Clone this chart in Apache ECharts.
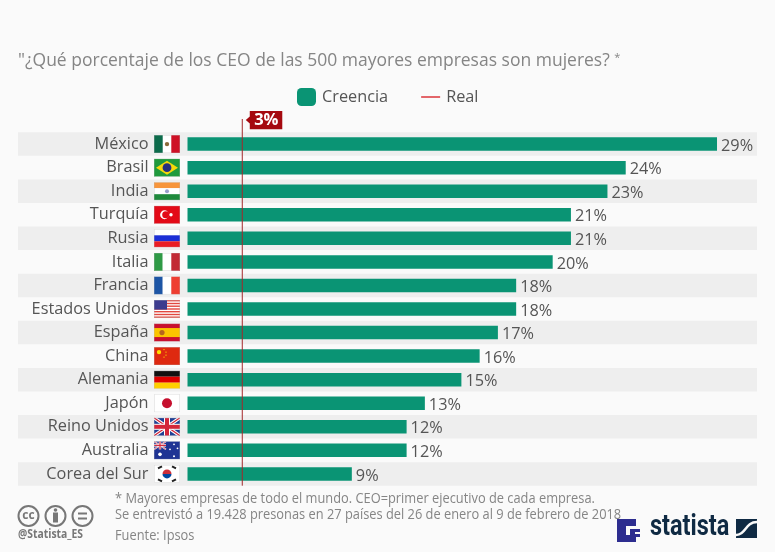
<!DOCTYPE html>
<html>
<head>
<meta charset="utf-8">
<style>html,body{margin:0;padding:0;background:#fafafa}#main{width:775px;height:552px}</style>
<script src="https://cdn.jsdelivr.net/npm/echarts@6/dist/echarts.min.js"></script>
</head>
<body>
<div id="main"></div>
<script>
var paises = ['México','Brasil','India','Turquía','Rusia','Italia','Francia','Estados Unidos','España','China','Alemania','Japón','Reino Unidos','Australia','Corea del Sur'];
var creencia = [29,24,23,21,21,20,18,18,17,16,15,13,12,12,9];
var real = [3];
var titulo = '"¿Qué porcentaje de los CEO de las 500 mayores empresas son mujeres?';
var nota1 = '* Mayores empresas de todo el mundo. CEO=primer ejecutivo de cada empresa.';
var nota2 = 'Se entrevistó a 19.428 presonas en 27 países del 26 de enero al 9 de febrero de 2018';
var fuente = 'Fuente: Ipsos';

var green = '#0a9474';
var redDark = '#a5090f';

function r(x, y, w, h, c) {
    return '<rect x="' + x + '" y="' + y + '" width="' + w + '" height="' + h + '" fill="' + c + '"/>';
}
function stars(list, c) {
    return list.map(function (s) {
        return '<circle cx="' + s[0] + '" cy="' + s[1] + '" r="' + s[2] + '" fill="' + c + '"/>';
    }).join('');
}
var usStripes = '';
[0, 2.8, 5.5, 8.3, 11, 13.8, 16.5].forEach(function (y) { usStripes += r(0, y, 26, 1.4, '#e2483f'); });

var ukFlag = r(0,0,26,18,'#1f3f94')
    + '<path d="M0 0L26 18M26 0L0 18" stroke="#fff" stroke-width="3.4"/>'
    + '<path d="M0 0L26 18M26 0L0 18" stroke="#d3263a" stroke-width="1.2"/>'
    + r(10,0,6,18,'#fff') + r(0,6,26,6,'#fff') + r(11,0,4,18,'#d3263a') + r(0,7,26,4,'#d3263a');
var auJack = '<path d="M0 0L12 8M12 0L0 8" stroke="#fff" stroke-width="1.6"/>'
    + '<path d="M0 0L12 8M12 0L0 8" stroke="#d3263a" stroke-width=".6"/>'
    + r(4.8,0,2.4,8,'#fff') + r(0,2.8,12,2.4,'#fff') + r(5.4,0,1.2,8,'#d3263a') + r(0,3.4,12,1.2,'#d3263a');

var flagArt = {
    'México': r(0,0,26,18,'#fff') + r(0,0,8.7,18,'#0c6b4b') + r(17.3,0,8.7,18,'#ce1126') + '<circle cx="13" cy="9" r="2.2" fill="#8a6a3a"/>',
    'Brasil': r(0,0,26,18,'#1f9a3d') + '<path d="M13 2L24 9L13 16L2 9Z" fill="#f5d90a"/><circle cx="13" cy="9" r="4.4" fill="#27307f"/>',
    'India': r(0,0,26,6,'#f7953b') + r(0,6,26,6,'#fff') + r(0,12,26,6,'#1f8a3c') + '<circle cx="13" cy="9" r="2" fill="#9aa0cc"/>',
    'Turquía': r(0,0,26,18,'#e30a17') + '<circle cx="10.5" cy="9" r="4.4" fill="#fff"/><circle cx="11.7" cy="9" r="3.5" fill="#e30a17"/><circle cx="17" cy="9" r="1.7" fill="#fff"/>',
    'Rusia': r(0,0,26,6,'#fff') + r(0,6,26,6,'#1c2fd6') + r(0,12,26,6,'#ea1c24'),
    'Italia': r(0,0,8.7,18,'#2f9a46') + r(8.7,0,8.6,18,'#fff') + r(17.3,0,8.7,18,'#c22a35'),
    'Francia': r(0,0,8.7,18,'#1d55a5') + r(8.7,0,8.6,18,'#fff') + r(17.3,0,8.7,18,'#ee3e32'),
    'Estados Unidos': r(0,0,26,18,'#fff') + usStripes + r(0,0,13,9.6,'#3c3b8e'),
    'España': r(0,0,26,18,'#c8102e') + r(0,4.5,26,9,'#fbc400') + '<circle cx="8" cy="9" r="2.6" fill="#b5651d"/>',
    'China': r(0,0,26,18,'#de2910') + stars([[5,5,2.2],[10,2.5,.7],[12,5,.7],[12,8,.7],[10,10,.7]], '#ffde00'),
    'Alemania': r(0,0,26,6,'#111') + r(0,6,26,6,'#dd0000') + r(0,12,26,6,'#ffce00'),
    'Japón': r(0,0,26,18,'#fff') + '<circle cx="13" cy="9" r="5" fill="#c60f2e"/>',
    'Reino Unidos': ukFlag,
    'Australia': r(0,0,26,18,'#1f3494') + auJack + stars([[6,13,1.8],[20,3,.9],[16,8,.9],[23.5,7,.9],[20,15,1]], '#fff'),
    'Corea del Sur': r(0,0,26,18,'#fff')
        + '<path d="M4 3.5L8 1.5M18 1.5L22 3.5M4 14.5L8 16.5M18 16.5L22 14.5" stroke="#222" stroke-width="2"/>'
        + '<path d="M8.5 9A4.5 4.5 0 0 1 17.5 9Z" fill="#cd2e3a"/><path d="M8.5 9A4.5 4.5 0 0 0 17.5 9Z" fill="#0047a0"/>'
};

function flagUri(name) {
    var svg = '<svg xmlns="http://www.w3.org/2000/svg" width="78" height="54" viewBox="0 0 26 18">' + flagArt[name]
        + '<rect x=".25" y=".25" width="25.5" height="17.5" fill="none" stroke="#bbb" stroke-opacity=".6" stroke-width=".5"/></svg>';
    return 'data:image/svg+xml;charset=utf-8,' + encodeURIComponent(svg);
}

var chart = echarts.init(document.getElementById('main'));

var option = {
    backgroundColor: '#fafafa',
    animation: false,
    textStyle: { fontFamily: 'Open Sans' },
    title: {
        left: 18, top: 52, padding: 0,
        text: titulo + ' {sup|*}',
        textStyle: {
            fontFamily: 'Open Sans', fontWeight: 'normal', fontSize: 17.5, color: '#858585',
            rich: { sup: { fontSize: 11, color: '#858585', verticalAlign: 'top', padding: [0, 0, 6, 0] } }
        }
    },
    legend: {
        left: 297, top: 88, padding: 0,
        itemWidth: 19, itemHeight: 18, itemGap: 33,
        textStyle: { fontSize: 16.3, color: '#555', padding: [6, 0, 0, 1] },
        data: [
            { name: 'Creencia', icon: 'roundRect', itemStyle: { color: green } },
            { name: 'Real', icon: 'path://M0 9H19V10.4H0Z', itemStyle: { color: '#d8262c' } }
        ]
    },
    grid: { left: 187.5, top: 132.3, width: 569.5, height: 353.4 },
    xAxis: { type: 'value', min: 0, max: 31.19, show: false },
    yAxis: {
        type: 'category', inverse: true, data: paises, z: 5,
        axisLine: { show: false }, axisTick: { show: false },
        axisLabel: { interval: 0, margin: 39, fontSize: 16.3, color: '#555', fontFamily: 'Open Sans', padding: [6, 0, 0, 0] }
    },
    series: [
        {
            // bandas alternas de fondo, empiezan fuera del grid
            type: 'custom', silent: true, z: 1,
            data: paises.map(function (p, i) { return [0, i]; }),
            renderItem: function (params, api) {
                if (params.dataIndex % 2) return { type: 'group', children: [] };
                var c = api.coord([0, params.dataIndex]);
                var h = api.size([0, 1])[1];
                return {
                    type: 'rect',
                    shape: { x: 18, y: c[1] - h / 2, width: 739, height: h },
                    style: { fill: '#eeeeee' }
                };
            }
        },
        {
            name: 'Creencia', type: 'bar', barWidth: 13.5, z: 2, data: creencia,
            itemStyle: { color: green },
            label: { show: true, position: 'right', distance: 4, offset: [0, 2], formatter: '{c}%', fontSize: 16.3, color: '#555', fontFamily: 'Open Sans' }
        },
        {
            // banderas entre etiqueta y barra
            type: 'custom', silent: true, z: 3,
            data: paises.map(function (p, i) { return [0, i]; }),
            renderItem: function (params, api) {
                var c = api.coord([0, params.dataIndex]);
                return {
                    type: 'image',
                    style: { image: flagUri(paises[params.dataIndex]), x: c[0] - 33.5, y: c[1] - 9, width: 26, height: 18 }
                };
            }
        },
        {
            name: 'Real', type: 'custom', silent: true, z: 4,
            data: real.map(function (v) { return [v, 0]; }),
            renderItem: function (params, api) {
                var sys = params.coordSys;
                var x = api.coord([api.value(0), 0])[0];
                var top = sys.y - 13.3;
                return {
                    type: 'group',
                    children: [
                        { type: 'line', shape: { x1: x, y1: top, x2: x, y2: sys.y + sys.height }, style: { stroke: '#a5282a', lineWidth: 1 } },
                        {
                            type: 'polygon',
                            shape: { points: [[x + 3.5, top + 1], [x + 7.5, top - 2.5], [x + 7.5, top - 8], [x + 40, top - 8], [x + 40, top + 10.3], [x + 7.5, top + 10.3], [x + 7.5, top + 4.5]] },
                            style: { fill: redDark }
                        },
                        {
                            type: 'text',
                            style: { x: x + 24, y: top + 1.5, text: api.value(0) + '%', fill: '#fff', font: 'bold 16.5px "Open Sans"', align: 'center', verticalAlign: 'middle' }
                        }
                    ]
                };
            }
        }
    ],
    graphic: [
        { type: 'text', x: 115, y: 491, scaleX: 0.885, style: { text: nota1, font: '14.5px "Open Sans"', fill: '#858585' } },
        { type: 'text', x: 115, y: 507, scaleX: 0.885, style: { text: nota2, font: '14.5px "Open Sans"', fill: '#858585' } },
        { type: 'text', x: 115, y: 528, scaleX: 0.885, style: { text: fuente, font: '14.5px "Open Sans"', fill: '#858585' } },

        // iconos cc
        { type: 'circle', shape: { cx: 28.5, cy: 516, r: 10 }, style: { fill: 'none', stroke: '#777', lineWidth: 2 } },
        { type: 'circle', shape: { cx: 55.5, cy: 516, r: 10 }, style: { fill: 'none', stroke: '#777', lineWidth: 2 } },
        { type: 'circle', shape: { cx: 82.5, cy: 516, r: 10 }, style: { fill: 'none', stroke: '#777', lineWidth: 2 } },
        { type: 'text', style: { x: 28.5, y: 516, text: 'cc', font: 'bold 12px "Open Sans"', fill: '#777', align: 'center', verticalAlign: 'middle' } },
        { type: 'circle', shape: { cx: 55.5, cy: 510, r: 1.8 }, style: { fill: '#777' } },
        { type: 'rect', shape: { x: 53, y: 512.5, width: 5, height: 10 }, style: { fill: '#777' } },
        { type: 'rect', shape: { x: 78, y: 512.5, width: 9, height: 2 }, style: { fill: '#777' } },
        { type: 'rect', shape: { x: 78, y: 517.5, width: 9, height: 2 }, style: { fill: '#777' } },
        { type: 'text', x: 18, y: 529, scaleX: 0.9, style: { text: '@Statista_ES', font: 'bold 11.5px "Open Sans"', fill: '#777' } },

        // logo statista
        { type: 'polygon', shape: { points: [[617,519],[636,519],[636,526],[626,526],[626,535],[630,535],[630,529],[640,529],[640,532],[635,532],[635,534],[640,534],[640,537],[636,537],[636,542],[617,542]] }, style: { fill: '#2d2d8f' } },
        { type: 'text', x: 650, y: 513, scaleX: 0.81, style: { text: 'statista', font: 'bold 29px "Roboto"', fill: '#0f2a43' } },
        { type: 'rect', shape: { x: 736, y: 519, width: 21, height: 19 }, style: { fill: '#0f2a43' } },
        { type: 'bezierCurve', shape: { x1: 736, y1: 535, cpx1: 746, cpy1: 535, cpx2: 745, cpy2: 522, x2: 757, y2: 522 }, style: { fill: 'none', stroke: '#fafafa', lineWidth: 2.5 } }
    ]
};

chart.setOption(option);
</script>
</body>
</html>
